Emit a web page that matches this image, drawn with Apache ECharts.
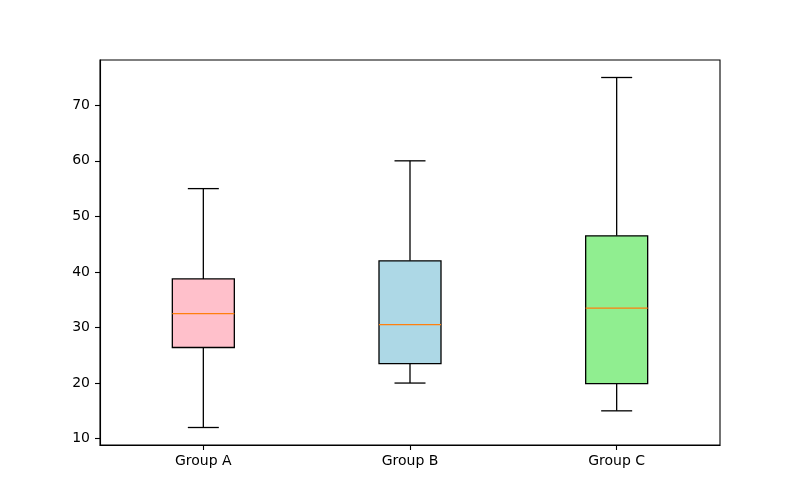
<!DOCTYPE html>
<html>
<head>
<meta charset="utf-8">
<script src="https://cdn.jsdelivr.net/npm/echarts@6/dist/echarts.min.js"></script>
<style>html,body{margin:0;padding:0;background:#fff;}#c{width:800px;height:500px;}</style>
</head>
<body>
<div id="c"></div>
<script>
const categories = ['Group A', 'Group B', 'Group C'];
const lowWhisker = [12, 20, 15];
const q1 = [26.4, 23.5, 19.9];
const median = [32.5, 30.5, 33.5];
const q3 = [38.75, 42, 46.5];
const highWhisker = [55, 60, 75];
const boxColors = ['#ffc0cb', '#add8e6', '#90ee90'];
const yTicks = [10, 20, 30, 40, 50, 60, 70];

const data = categories.map((c, i) => [i, lowWhisker[i], q1[i], median[i], q3[i], highWhisker[i]]);

const chart = echarts.init(document.getElementById('c'), null, {renderer: 'canvas'});
const font = 'DejaVu Sans';
chart.setOption({
  animation: false,
  backgroundColor: '#fff',
  grid: {left: 100, right: 80, top: 60, bottom: 55, show: true, borderColor: '#000', borderWidth: 1.1, backgroundColor: 'transparent'},
  xAxis: {
    type: 'category',
    data: categories,
    boundaryGap: true,
    axisLine: {show: true, lineStyle: {color: '#000', width: 1.1}},
    axisTick: {show: true, alignWithLabel: true, length: 5, lineStyle: {color: '#000', width: 1.1}},
    axisLabel: {color: '#000', fontFamily: font, fontSize: 14, margin: 9},
    splitLine: {show: false}
  },
  yAxis: {
    type: 'value',
    min: 8.85,
    max: 78.15,
    axisLine: {show: true, lineStyle: {color: '#000', width: 1.1}},
    axisTick: {show: true, length: 5, customValues: yTicks, lineStyle: {color: '#000', width: 1.1}},
    axisLabel: {color: '#000', fontFamily: font, fontSize: 14, margin: 10, customValues: yTicks},
    splitLine: {show: false}
  },
  series: [{
    type: 'custom',
    data: data,
    encode: {x: 0, y: [1, 2, 3, 4, 5]},
    clip: false,
    renderItem: function (params, api) {
      const idx = api.value(0);
      const pLow = api.coord([idx, api.value(1)]);
      const pQ1 = api.coord([idx, api.value(2)]);
      const pMed = api.coord([idx, api.value(3)]);
      const pQ3 = api.coord([idx, api.value(4)]);
      const pHigh = api.coord([idx, api.value(5)]);
      const bw = api.size([1, 0])[0] * 0.3;
      const cx = pLow[0];
      const half = bw / 2;
      const quarter = bw / 4;
      const lw = 1.3;
      const stroke = {stroke: '#000', lineWidth: lw, fill: null};
      return {
        type: 'group',
        children: [
          {type: 'line', shape: {x1: cx, y1: pQ1[1], x2: cx, y2: pLow[1]}, style: stroke},
          {type: 'line', shape: {x1: cx, y1: pQ3[1], x2: cx, y2: pHigh[1]}, style: stroke},
          {type: 'line', shape: {x1: cx - quarter, y1: pLow[1], x2: cx + quarter, y2: pLow[1]}, style: stroke},
          {type: 'line', shape: {x1: cx - quarter, y1: pHigh[1], x2: cx + quarter, y2: pHigh[1]}, style: stroke},
          {type: 'rect', shape: {x: cx - half, y: pQ3[1], width: bw, height: pQ1[1] - pQ3[1]},
           style: {fill: boxColors[idx], stroke: '#000', lineWidth: lw}},
          {type: 'line', shape: {x1: cx - half, y1: pMed[1], x2: cx + half, y2: pMed[1]},
           style: {stroke: '#ff7f0e', lineWidth: lw}}
        ]
      };
    }
  }]
});
</script>
</body>
</html>
